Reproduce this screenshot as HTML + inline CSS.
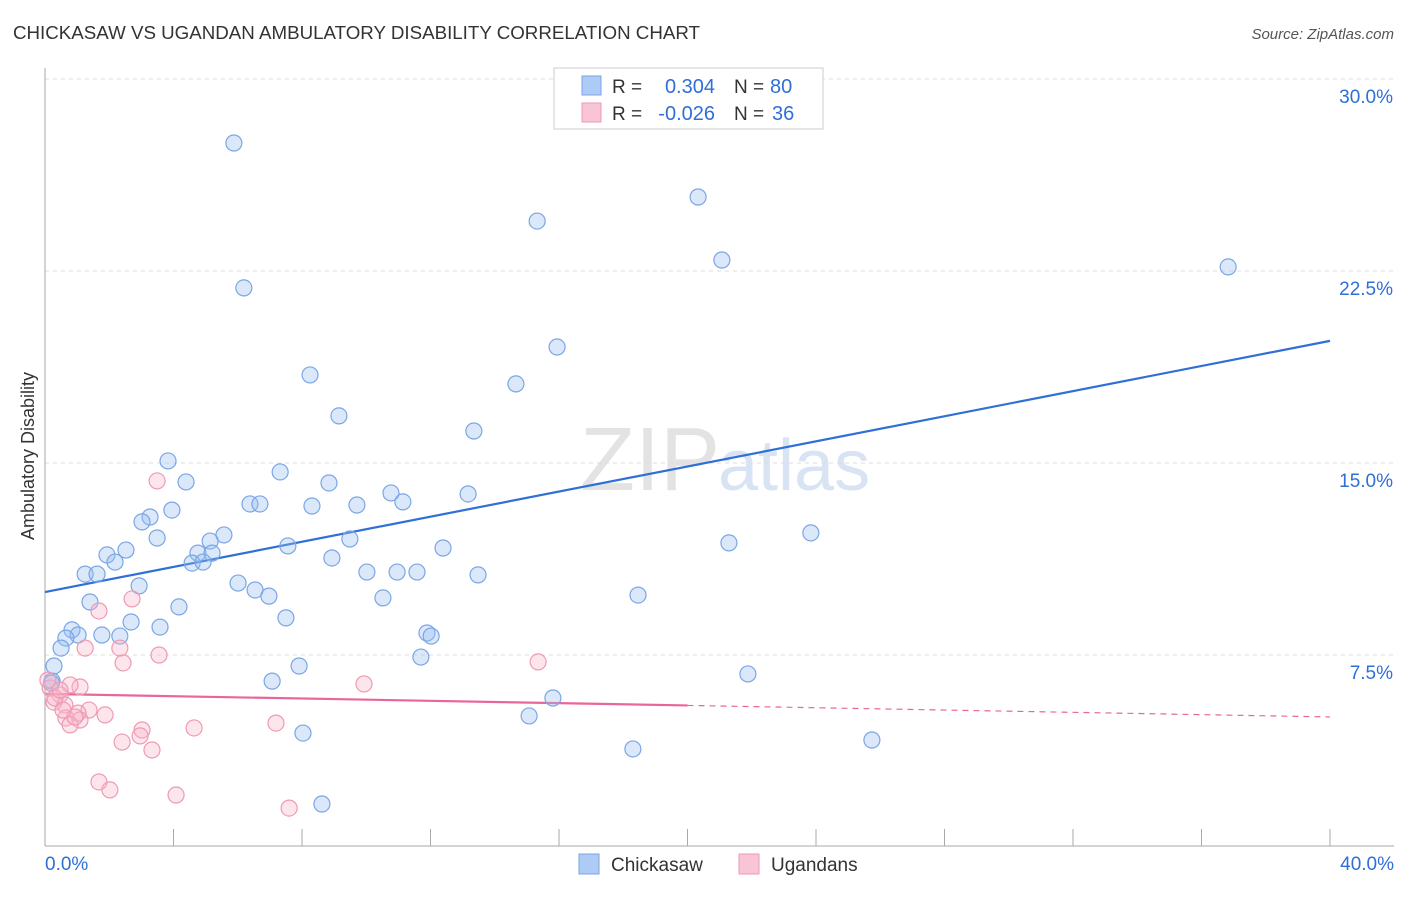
<!DOCTYPE html>
<html><head><meta charset="utf-8"><style>
body{margin:0;background:#fff;font-family:"Liberation Sans",sans-serif}
svg text{font-family:"Liberation Sans",sans-serif}
</style></head><body>
<svg id="chart" width="1406" height="892" xmlns="http://www.w3.org/2000/svg">
<text x="13" y="39" font-size="18" fill="#333" textLength="687" lengthAdjust="spacingAndGlyphs">CHICKASAW VS UGANDAN AMBULATORY DISABILITY CORRELATION CHART</text>
<text x="1394" y="39" font-size="15" fill="#555" text-anchor="end" font-style="italic">Source: ZipAtlas.com</text>
<text x="720" y="490" font-size="90" fill="#ddd" text-anchor="end" font-family="Liberation Serif" opacity="0.8">ZIP</text>
<text x="718" y="490" font-size="72" fill="#c8d8ee" opacity="0.7">atlas</text>
<g id="grid"></g><g id="axes"></g><g id="lines"></g><g id="pts"></g>
<text transform="translate(34,456) rotate(-90)" font-size="18" fill="#333" text-anchor="middle">Ambulatory Disability</text>
<g>
<rect x="554" y="68" width="269" height="61" fill="#fff" stroke="#ccc"/>
<rect x="582" y="76" width="19" height="19" fill="#aecbf5" stroke="#7aa6e6"/>
<rect x="582" y="103" width="19" height="19" fill="#f9c4d4" stroke="#ee9ab4"/>
<text x="612" y="93" font-size="19" fill="#333">R =</text>
<text x="715" y="93" font-size="20" fill="#2f6fd6" text-anchor="end">0.304</text>
<text x="734" y="93" font-size="19" fill="#333">N =</text>
<text x="770" y="93" font-size="20" fill="#2f6fd6">80</text>
<text x="612" y="120" font-size="19" fill="#333">R =</text>
<text x="715" y="120" font-size="20" fill="#2f6fd6" text-anchor="end">-0.026</text>
<text x="734" y="120" font-size="19" fill="#333">N =</text>
<text x="772" y="120" font-size="20" fill="#2f6fd6">36</text>
</g>
<g>
<rect x="579" y="854" width="20" height="20" fill="#aecbf5" stroke="#7aa6e6"/>
<text x="611" y="871" font-size="19" fill="#333">Chickasaw</text>
<rect x="739" y="854" width="20" height="20" fill="#f9c4d4" stroke="#ee9ab4"/>
<text x="771" y="871" font-size="19" fill="#333">Ugandans</text>
</g>
</svg>
<script>
const blueX=[5.88,6.19,20.33,15.32,21.07,36.83,15.94,8.25,14.66,9.15,13.35,3.83,7.32,4.39,8.84,13.17,10.77,11.14,6.38,6.69,8.31,9.71,3.95,3.27,3.02,5.57,3.49,5.14,9.49,21.29,23.84,7.56,12.39,2.52,1.93,4.76,5.2,8.93,2.18,4.58,4.92,1.25,1.62,10.02,10.96,11.58,13.48,2.93,6.01,6.54,6.97,10.52,18.46,1.4,4.17,7.5,2.68,3.58,0.84,1.03,1.77,2.33,0.65,11.89,12.02,0.5,11.7,0.28,7.91,21.88,7.07,0.22,15.81,15.07,8.03,18.3,25.74,8.62,16.56,0.2];
const blueY=[27.5,21.84,25.39,24.45,22.93,22.66,19.53,18.44,18.09,16.84,16.25,15.08,14.65,14.26,14.22,13.79,13.83,13.48,13.4,13.4,13.32,13.36,13.16,12.89,12.7,12.19,12.07,11.95,12.03,11.88,12.27,11.76,11.68,11.6,11.41,11.48,11.48,11.29,11.13,11.09,11.13,10.66,10.66,10.74,10.74,10.74,10.63,10.2,10.31,10.04,9.8,9.73,9.84,9.57,9.38,8.95,8.79,8.59,8.48,8.28,8.28,8.24,8.16,8.36,8.24,7.77,7.42,7.07,7.07,6.76,6.48,6.48,5.82,5.12,4.45,3.83,4.18,1.68,29.65,6.4];
const pinkX=[3.49,2.71,1.68,1.25,2.33,3.55,2.43,15.35,9.93,0.16,1.09,0.78,0.47,0.28,0.62,1.37,1.03,0.65,1.09,0.78,7.19,4.64,3.02,2.96,2.4,3.33,1.68,2.02,4.08,7.6,0.31,0.47,0.93,0.56,1.87,0.09];
const pinkY=[14.3,9.69,9.22,7.77,7.77,7.5,7.19,7.23,6.37,6.21,6.25,6.33,5.94,5.66,5.55,5.35,5.23,5.04,4.96,4.77,4.84,4.65,4.57,4.34,4.1,3.79,2.54,2.23,2.03,1.52,5.82,6.13,5.08,5.35,5.16,6.52];
const yTicks=[7.5,15,22.5,30];
const yTickLabels=["7.5%","15.0%","22.5%","30.0%"];
const blueFit=[9.96,19.77];
const pinkFit=[5.98,5.08];
const pinkSolidEnd=20;
const X=v=>45+v*32.125, Y=v=>847-v*25.6;
const NS="http://www.w3.org/2000/svg";
function mk(tag,attrs,parent){const e=document.createElementNS(NS,tag);for(const k in attrs)e.setAttribute(k,attrs[k]);document.getElementById(parent).appendChild(e);return e;}
yTicks.forEach((t,i)=>{
 const g=mk('line',{x1:45,x2:1394,y1:Y(t),y2:Y(t),stroke:'#ddd','stroke-dasharray':'4,4'},'grid');
 
 
 const l=mk('text',{x:1393,y:Y(t)+24,'font-size':19,fill:'#2f6fd6','text-anchor':'end'},'grid');
 l.textContent=yTickLabels[i];
 
 
});
const ax=mk('line',{x1:45,x2:45,y1:68,y2:846,stroke:'#aaa'},'axes');


const bx=mk('line',{x1:45,x2:1394,y1:846,y2:846,stroke:'#aaa'},'axes');


for(let i=0;i<=10;i++){const t=mk('line',{x1:X(i*4),x2:X(i*4),y1:829,y2:846,stroke:'#aaa'},'axes');
 
 }
[[0,"0.0%","start",45],[40,"40.0%","end",1394]].forEach(a=>{const t=mk('text',{x:a[3],y:870,'font-size':19,fill:'#2f6fd6','text-anchor':a[2]},'axes');t.textContent=a[1];
 
 });
blueX.forEach((x,i)=>{const c=mk('circle',{cx:X(x),cy:Y(blueY[i]),r:8,fill:'rgba(150,190,240,0.35)',stroke:'#7aa6e6','stroke-width':1.2},'pts');
 
 });
pinkX.forEach((x,i)=>{const c=mk('circle',{cx:X(x),cy:Y(pinkY[i]),r:8,fill:'rgba(248,180,200,0.35)',stroke:'#ee9ab4','stroke-width':1.2},'pts');
 
 });
const bl=mk('line',{x1:X(0),y1:Y(blueFit[0]),x2:X(40),y2:Y(blueFit[1]),stroke:'#2f6fd6','stroke-width':2.2},'lines');


const pm=pinkFit[0]+(pinkFit[1]-pinkFit[0])*pinkSolidEnd/40;
const pl=mk('line',{x1:X(0),y1:Y(pinkFit[0]),x2:X(pinkSolidEnd),y2:Y(pm),stroke:'#e8679a','stroke-width':2.2},'lines');


const pd=mk('line',{x1:X(pinkSolidEnd),y1:Y(pm),x2:X(40),y2:Y(pinkFit[1]),stroke:'#e8679a','stroke-width':1.2,'stroke-dasharray':'6,5'},'lines');


</script>
</body></html>
